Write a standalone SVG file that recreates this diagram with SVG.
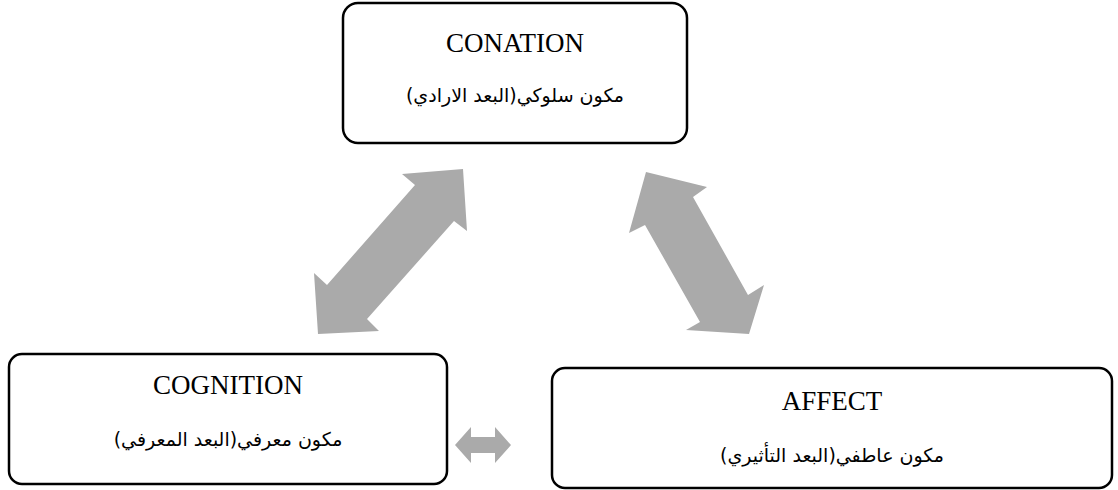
<svg xmlns="http://www.w3.org/2000/svg" width="1118" height="490" viewBox="0 0 1118 490">
<style>
.box{fill:#fff;stroke:#000;stroke-width:2.5}
.en{font-family:"Liberation Serif","Times New Roman",serif;font-size:27px;fill:#000;text-anchor:middle}
.ar{font-family:"DejaVu Sans",sans-serif;font-size:19px;fill:#000;text-anchor:middle}
.arr{fill:#aaaaaa}
</style>
<rect width="1118" height="490" fill="#fff"/>
<g id="connectors">
<polygon class="arr" points="463,169 402,174 415,185 327,285 314,273 318,334 379,331 367,319 454,221 467,231"/>
<polygon class="arr" points="646,172 707,187 693,197 748,295 764,285 749,334 686,330 700,322 645,225 629,233"/>
<polygon class="arr" points="455,445 471,427 471,437 495,437 495,427 511,445 495,463 495,453 471,453 471,463"/>
</g>
<g id="conation">
<rect class="box" x="343" y="3" width="344" height="140" rx="15"/>
<text class="en" x="515" y="52">CONATION</text>
<text class="ar" x="515" y="102" direction="rtl">مكون سلوكي(البعد الارادي)</text>
</g>
<g id="cognition">
<rect class="box" x="9" y="354" width="438" height="130" rx="13"/>
<text class="en" x="228" y="394">COGNITION</text>
<text class="ar" x="228" y="446" direction="rtl">مكون معرفي(البعد المعرفي)</text>
</g>
<g id="affect">
<rect class="box" x="552" y="368" width="560" height="120" rx="13"/>
<text class="en" x="832" y="410">AFFECT</text>
<text class="ar" x="832" y="462" direction="rtl">مكون عاطفي(البعد التأثيري)</text>
</g>
</svg>
